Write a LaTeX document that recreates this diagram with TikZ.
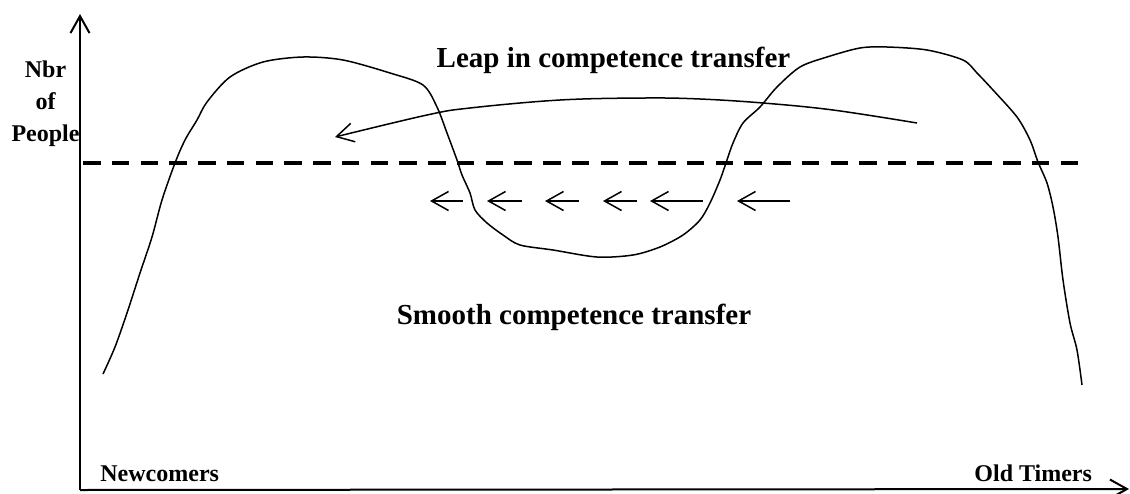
\documentclass[tikz,border=0pt]{standalone}
\usepackage{fontspec}
\setmainfont{Liberation Serif}
\usetikzlibrary{arrows.meta, positioning}

\begin{document}
\begin{tikzpicture}[x=0.5pt, y=-0.5pt,
    barb/.style={-{Straight Barb[length=8.5pt, width=9.5pt]}},
    axisline/.style={line width=1pt, barb},
    flowarrow/.style={line width=0.75pt, barb},
    handcurve/.style={line width=0.75pt, line join=round},
    levelline/.style={line width=2.3pt, dash pattern=on 8.75pt off 5.625pt},
    biglabel/.style={font=\bfseries\fontsize{14.5}{17}\selectfont, inner sep=0pt},
    axislabel/.style={font=\bfseries\fontsize{12}{16}\selectfont, inner sep=0pt}]
  \useasboundingbox (0,0) rectangle (1130,493);
  \coordinate (origin) at (80,490);
  \coordinate (ytop) at (80,14);
  \coordinate (xend) at (1129,489);
  \draw[axisline] (origin) -- (ytop);
  \draw[axisline] (origin) -- (xend);
  \coordinate (levelleft) at (83,163);
  \coordinate (levelright) at (1078,163);
  \draw[levelline] (levelleft) -- (levelright);
  \draw[handcurve] plot[smooth, tension=0.5] coordinates {
    (103,374) (115,347) (127,313) (140,273) (152,237) (162,200) (175,163)
    (185,140) (197,120) (207,102) (230,77) (263,62) (303,57) (343,60)
    (390,73) (423,85) (437,107) (447,133) (457,160) (462,175) (470,193)
    (475,210) (487,223) (503,235) (520,245) (553,250) (597,257) (633,255)
    (660,247) (683,235) (700,220) (710,203) (720,180) (727,160) (733,143)
    (743,123) (760,107) (777,87) (800,67) (827,57) (860,48) (887,47)
    (927,50) (963,60) (977,73) (993,90) (1017,117) (1030,140) (1038,162)
    (1047,183) (1053,207) (1058,237) (1063,280) (1070,323) (1077,350)
    (1082,385)};
  \draw[flowarrow] plot[smooth, tension=0.6] coordinates {
    (917,123) (833,110) (763,103) (700,99) (645,98) (560,100) (470,108)
    (427,115) (335,137)};
  \foreach \tip/\tail [count=\i] in {430/463, 487/522, 545/579, 603/637, 650/703, 737/790} {
    \coordinate (step\i tip) at (\tip,201);
    \coordinate (step\i tail) at (\tail,201);
    \draw[flowarrow] (step\i tail) -- (step\i tip);
  }
  \node[axislabel, align=center] (ylabel) at (45.5,103.5) {Nbr\\of\\People};
  \node[axislabel, anchor=base west] (newcomers) at (100,481) {Newcomers};
  \node[axislabel, anchor=base west] (oldtimers) at (974,481) {Old Timers};
  \node[biglabel, anchor=base] (leap) at (613.5,67.5) {Leap in competence transfer};
  \node[biglabel, anchor=base] (smooth) at (574,324) {Smooth competence transfer};
\end{tikzpicture}
\end{document}
